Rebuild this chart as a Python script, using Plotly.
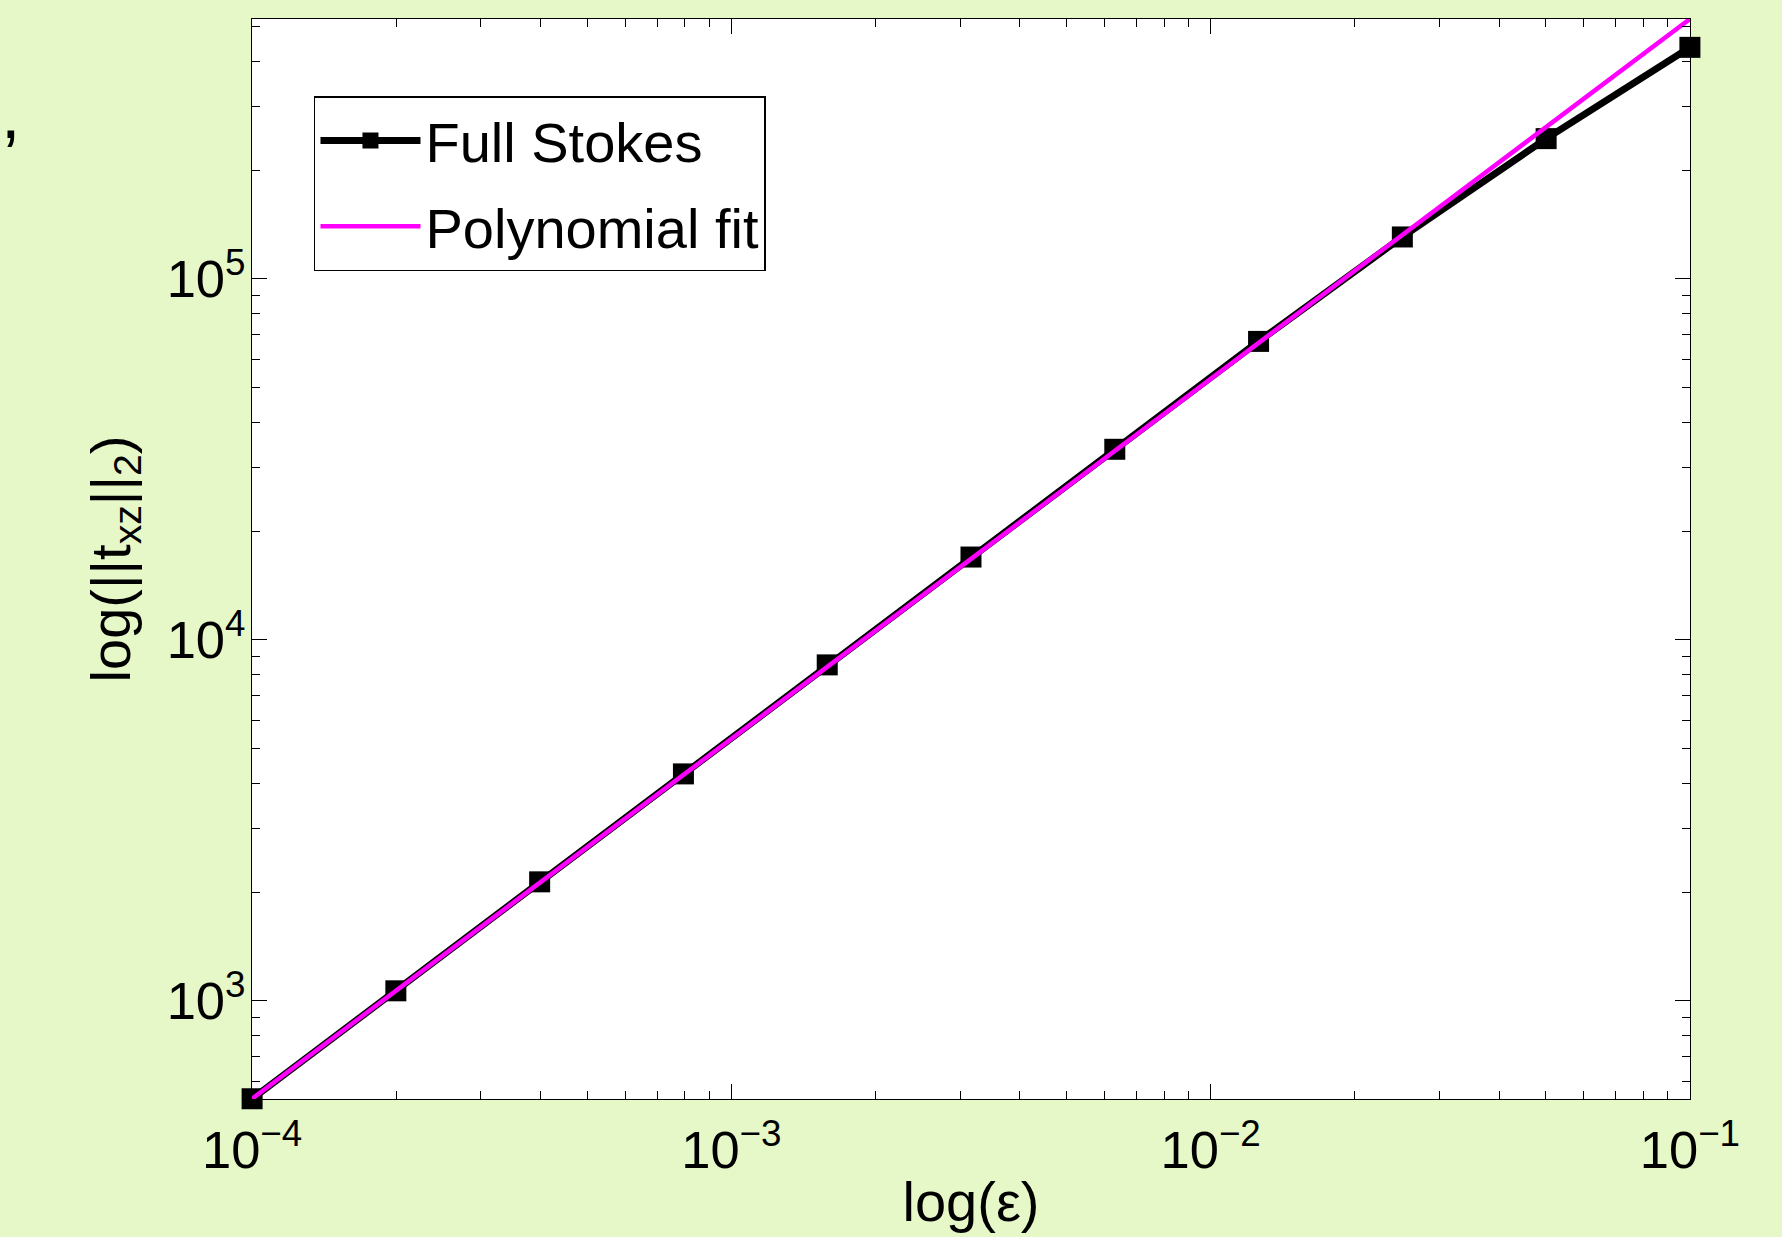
import plotly.graph_objects as go

# ---- data ----
eps = [1.0e-4, 1.995e-4, 3.981e-4, 7.943e-4, 1.585e-3, 3.162e-3,
       6.310e-3, 1.259e-2, 2.512e-2, 5.012e-2, 1.0e-1]
txz_norm = [536, 1067, 2138, 4256, 8530, 16970,
            33740, 67140, 130700, 244700, 438000]

fit_eps = [1.0e-4, 1.0e-1]
fit_vals = [536, 524800]

x_title = "log(ε)"
y_title = "log(||t<sub>xz</sub>||<sub>2</sub>)"
series_names = ["Full Stokes", "Polynomial fit"]

FONT = "Liberation Sans, Arial, Helvetica, sans-serif"
BG = "#E6F8C8"

fig = go.Figure()
fig.add_trace(go.Scatter(
    x=eps, y=txz_norm, mode="lines+markers", name=series_names[0],
    line=dict(color="black", width=7),
    marker=dict(symbol="square", size=21, color="black"),
    cliponaxis=False, legendgroup="a",
))
fig.add_trace(go.Scatter(
    x=fit_eps, y=fit_vals, mode="lines", name=series_names[1],
    line=dict(color="#FF00FF", width=4.5), legendgroup="b",
))

axis_common = dict(
    type="log", showline=True, linecolor="black", linewidth=1.2,
    mirror="allticks", ticks="inside", ticklen=15, tickwidth=1.2,
    tickcolor="black", showgrid=False, zeroline=False,
    dtick=1, exponentformat="power", showexponent="all",
    tickfont=dict(family=FONT, size=42, color="black"),
    minor=dict(ticks="inside", ticklen=8, tickwidth=1.2, tickcolor="black",
               showgrid=False),
)

fig.update_xaxes(**axis_common, range=[-4.0002, -0.9998],
                 title=dict(text=x_title, font=dict(family=FONT, size=56, color="black"),
                            standoff=3),
                 ticklabelstandoff=7)
fig.update_yaxes(**axis_common, range=[2.7285, 5.720],
                 title=dict(text=y_title, font=dict(family=FONT, size=56, color="black"),
                            standoff=18),
                 ticklabelstandoff=-3)

fig.update_layout(
    width=1782, height=1237,
    margin=dict(l=252, r=92, t=19, b=138, autoexpand=False),
    paper_bgcolor=BG, plot_bgcolor="white",
    font=dict(family=FONT, color="black"),
    showlegend=True,
    legend=dict(
        x=0.0431, y=0.9287, xanchor="left", yanchor="top",
        bgcolor="white", bordercolor="black", borderwidth=1.5,
        font=dict(family=FONT, size=56, color="black"),
        itemwidth=100, tracegroupgap=10,
    ),
    annotations=[dict(
        text=",", xref="paper", yref="paper", x=-0.176, y=(1099 - 114) / 1080,
        xanchor="left", yanchor="middle", showarrow=False,
        font=dict(family=FONT, size=70, color="black"),
    )],
)

fig.write_html("out.html", config={"displayModeBar": False},
               post_script="document.body.style.margin='0px';")
